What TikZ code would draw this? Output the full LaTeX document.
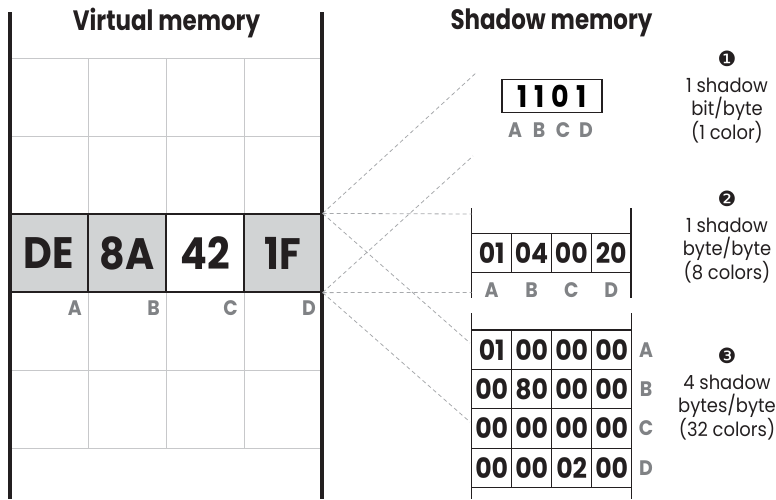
\documentclass[tikz,border=0pt]{standalone}
\usepackage{fontspec}
\setmainfont{Poppins}
\newfontfamily\futura{Poppins}[FakeStretch=0.82]
\newfontfamily\futurawide{Poppins}[FakeStretch=0.9]
\newfontfamily\futurabook{Poppins}[FakeStretch=0.92]
\newfontfamily\dingfont{DejaVu Sans}
\definecolor{cellgray}{HTML}{D1D3D4}
\definecolor{labelgray}{HTML}{808285}
\definecolor{gridgray}{HTML}{C7C8CA}
\definecolor{dashgray}{HTML}{A7A9AC}
\definecolor{inkblack}{HTML}{231F20}

\begin{document}
\begin{tikzpicture}[x=1pt,y=-1pt,
		framelinev/.style={draw=inkblack, line width=3.4pt},
		gridline/.style={draw=gridgray, line width=1pt},
		dashline/.style={draw=dashgray, line width=0.8pt, dash pattern=on 4pt off 3pt},
		bytecell/.style={minimum width=78pt, minimum height=78pt, inner sep=0pt, draw=inkblack, line width=1.2pt, text=inkblack, font=\futurawide\fontsize{44}{44}\selectfont\bfseries},
		shadowcell/.style={minimum width=40pt, minimum height=39.5pt, inner sep=0pt, draw=inkblack, line width=1.2pt, text=inkblack, font=\futurawide\fontsize{28}{28}\selectfont\bfseries},
		letterlbl/.style={inner sep=0pt, text=labelgray, font=\futurawide\fontsize{21}{21}\selectfont\bfseries},
		titlelbl/.style={inner sep=0pt, text=inkblack, font=\futura\fontsize{28}{28}\selectfont\bfseries},
		notelbl/.style={inner sep=0pt, align=center, text=inkblack, font=\futurabook\fontsize{19.5}{23}\selectfont}]
		\useasboundingbox (0,0) rectangle (776,499);

		\draw (166.5,23) node[titlelbl] (vmtitle) {Virtual memory};
		\draw (551.5,23) node[titlelbl] (smtitle) {Shadow memory};

		\draw[gridline] (10,58.7) -- (322,58.7);
		\draw[gridline] (10,136.3) -- (322,136.3);
		\draw[gridline] (10,370) -- (322,370);
		\draw[gridline] (10,448) -- (322,448);
		\draw[gridline] (88,58.7) -- (88,448);
		\draw[gridline] (166,58.7) -- (166,448);
		\draw[gridline] (244,58.7) -- (244,448);

		\draw (49,253) node[bytecell, fill=cellgray] (byteA) {DE};
		\draw (127,253) node[bytecell, fill=cellgray] (byteB) {8A};
		\draw (205,253) node[bytecell, fill=white] (byteC) {42};
		\draw (283,253) node[bytecell, fill=cellgray] (byteD) {1F};

		\draw (82,308) node[letterlbl, anchor=east] (lblA) {A};
		\draw (160,308) node[letterlbl, anchor=east] (lblB) {B};
		\draw (238,308) node[letterlbl, anchor=east] (lblC) {C};
		\draw (316,308) node[letterlbl, anchor=east] (lblD) {D};

		\draw[framelinev] (10,12) -- (10,499);
		\draw[framelinev] (322,12) -- (322,499);

		\draw (552,96) node[minimum width=100pt, minimum height=32.5pt, inner sep=0pt, draw=inkblack, line width=1.2pt, font=\futurawide\fontsize{30}{30}\selectfont\bfseries] (bits) {1\hspace{7pt}1\hspace{7pt}0\hspace{7pt}1\hspace{12pt}};
		\draw (515,130) node[letterlbl] (bitA) {A};
		\draw (539,130) node[letterlbl] (bitB) {B};
		\draw (563,130) node[letterlbl] (bitC) {C};
		\draw (586,130) node[letterlbl] (bitD) {D};

		\draw[framelinev, line width=1.2pt] (471.7,208) -- (471.7,298);
		\draw[framelinev, line width=1.2pt] (631,208) -- (631,298);
		\draw (491.7,253) node[shadowcell] (oneA) {01};
		\draw (531.5,253) node[shadowcell] (oneB) {04};
		\draw (571.3,253) node[shadowcell] (oneC) {00};
		\draw (611.2,253) node[shadowcell] (oneD) {20};
		\draw (491.7,290) node[letterlbl] (oneLblA) {A};
		\draw (531.5,290) node[letterlbl] (oneLblB) {B};
		\draw (571.3,290) node[letterlbl] (oneLblC) {C};
		\draw (611.2,290) node[letterlbl] (oneLblD) {D};

		\draw[framelinev, line width=1.2pt] (471.7,313) -- (471.7,499);
		\draw[framelinev, line width=1.2pt] (631.7,313) -- (631.7,499);
		\draw (491.7,349.7) node[shadowcell] (fourA1) {01};
		\draw (531.7,349.7) node[shadowcell] (fourA2) {00};
		\draw (571.7,349.7) node[shadowcell] (fourA3) {00};
		\draw (611.7,349.7) node[shadowcell] (fourA4) {00};
		\draw (491.7,389.1) node[shadowcell] (fourB1) {00};
		\draw (531.7,389.1) node[shadowcell] (fourB2) {80};
		\draw (571.7,389.1) node[shadowcell] (fourB3) {00};
		\draw (611.7,389.1) node[shadowcell] (fourB4) {00};
		\draw (491.7,428.5) node[shadowcell] (fourC1) {00};
		\draw (531.7,428.5) node[shadowcell] (fourC2) {00};
		\draw (571.7,428.5) node[shadowcell] (fourC3) {00};
		\draw (611.7,428.5) node[shadowcell] (fourC4) {00};
		\draw (491.7,467.9) node[shadowcell] (fourD1) {00};
		\draw (531.7,467.9) node[shadowcell] (fourD2) {00};
		\draw (571.7,467.9) node[shadowcell] (fourD3) {02};
		\draw (611.7,467.9) node[shadowcell] (fourD4) {00};
		\draw (646,349.7) node[letterlbl] (fourLblA) {A};
		\draw (646,389.1) node[letterlbl] (fourLblB) {B};
		\draw (646,428.5) node[letterlbl] (fourLblC) {C};
		\draw (646,467.9) node[letterlbl] (fourLblD) {D};

		\draw (727,51) node[notelbl, anchor=north] (noteBit) {{\dingfont\fontsize{21}{21}\selectfont ❶}\\[3pt]1 shadow\\bit/byte\\(1 color)};
		\draw (727,191) node[notelbl, anchor=north] (noteByte) {{\dingfont\fontsize{21}{21}\selectfont ❷}\\[3pt]1 shadow\\byte/byte\\(8 colors)};
		\draw (727,348) node[notelbl, anchor=north] (noteFour) {{\dingfont\fontsize{21}{21}\selectfont ❸}\\[3pt]4 shadow\\bytes/byte\\(32 colors)};

		\coordinate (bitTop) at (477,72);
		\coordinate (bitBot) at (473,156);
		\coordinate (oneTop) at (471.7,214);
		\coordinate (oneBot) at (471.7,292.5);
		\coordinate (fourTop) at (470,343);
		\coordinate (fourBot) at (470,422);

		\draw[dashline] (byteD.north east) -- (bitTop);
		\draw[dashline] (byteD.south east) -- (bitBot);
		\draw[dashline] (byteD.north east) -- (oneTop);
		\draw[dashline] (byteD.south east) -- (oneBot);
		\draw[dashline] (byteD.north east) -- (fourTop);
		\draw[dashline] (byteD.south east) -- (fourBot);
	\end{tikzpicture}
\end{document}
